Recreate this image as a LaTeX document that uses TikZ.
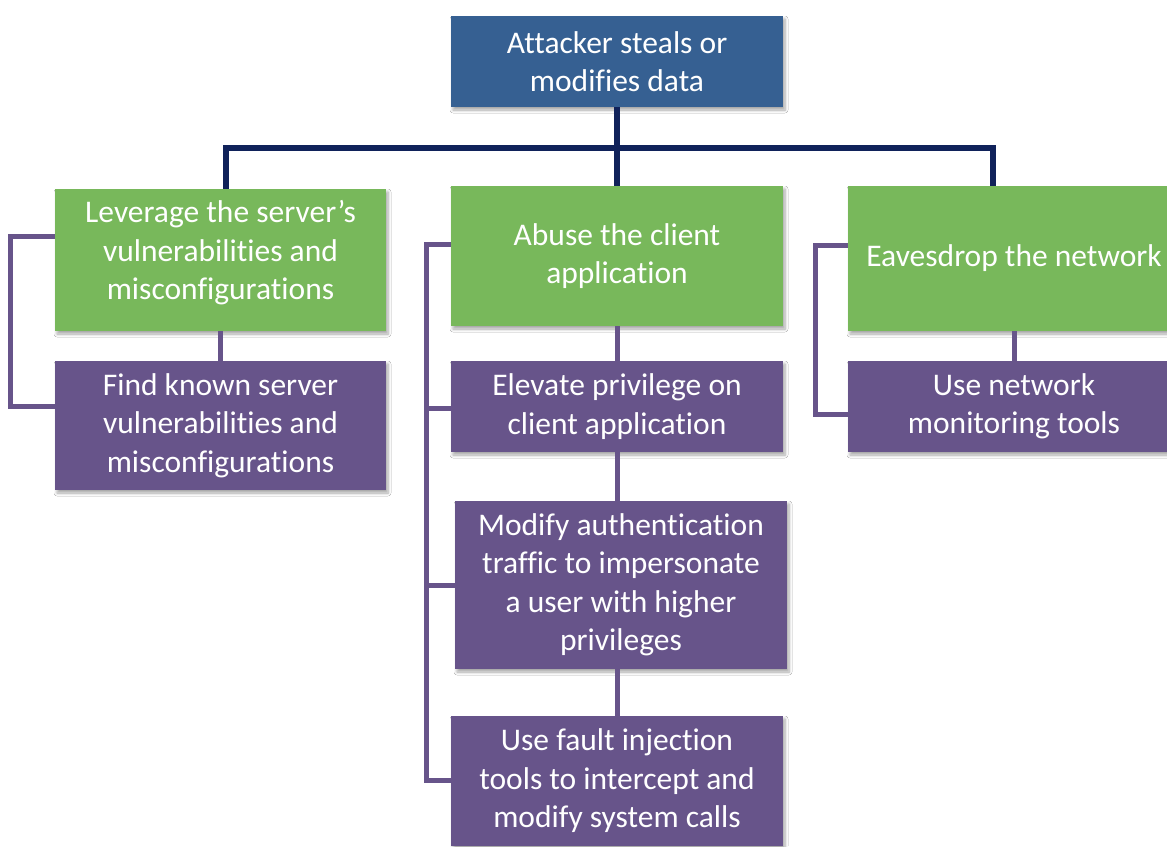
\documentclass[tikz,border=0pt]{standalone}
\usepackage{fontspec}
\setmainfont{Carlito}[Ligatures={NoCommon}]
\usetikzlibrary{shadows.blur}
\definecolor{rootblue}{HTML}{366092}
\definecolor{leafgreen}{HTML}{78B85B}
\definecolor{stepviolet}{HTML}{67548A}
\definecolor{busnavy}{HTML}{10225A}
\tikzset{
  boxtext/.style={text=white, align=center, inner sep=0pt,
    font=\fontsize{31.5}{38.5}\selectfont,
    execute at begin node={\vspace*{6pt}}},
  box/.style={rectangle, boxtext,
    blur shadow={shadow blur steps=6, shadow xshift=2pt, shadow yshift=-3pt,
      shadow opacity=35, shadow blur radius=3pt}},
  rootbox/.style={box, fill=rootblue},
  goalbox/.style={box, fill=leafgreen},
  stepbox/.style={box, fill=stepviolet},
  busline/.style={draw=busnavy, line width=5.5pt},
  linkline/.style={draw=stepviolet, line width=5pt}
}
\begin{document}
\begin{tikzpicture}[x=1pt, y=-1pt]
\useasboundingbox (0,0) rectangle (1167,846);
\clip (0,0) rectangle (1167,846);
\fill[white] (0,0) rectangle (1167,846);

% junctions of the tree bus
\coordinate (busL) at (226,148);
\coordinate (busR) at (993,148);

% left branch bracket
\coordinate (lbT) at (10,236);
\coordinate (lbB) at (10,406);
% middle branch bracket
\coordinate (mbT) at (426,244);
\coordinate (mb2) at (426,408);
\coordinate (mb3) at (426,585);
\coordinate (mbB) at (426,780);
% right branch bracket
\coordinate (rbT) at (815,245);
\coordinate (rbB) at (815,414);

% boxes
\node[rootbox, minimum width=332pt, minimum height=91pt] (root) at (617,61.5)
  {Attacker steals or\\modifies data};

\node[goalbox, minimum width=331pt, minimum height=142pt] (g1) at (220.5,260) {};
\node[boxtext] (g1t) at ([yshift=7pt]g1.center)
  {Leverage the server’s\\vulnerabilities and\\misconfigurations};
\node[stepbox, minimum width=331pt, minimum height=129pt] (p1) at (220.5,425.5)
  {Find known server\\vulnerabilities and\\misconfigurations};

\node[goalbox, minimum width=332pt, minimum height=140pt] (g2) at (617,256)
  {Abuse the client\\application};
\node[stepbox, minimum width=332pt, minimum height=91pt] (p2) at (617,406.5)
  {Elevate privilege on\\client application};
\node[stepbox, minimum width=332pt, minimum height=168pt] (p3) at (621,585)
  {Modify authentication\\traffic to impersonate\\a user with higher\\privileges};
\node[stepbox, minimum width=332pt, minimum height=130pt] (p4) at (617,781)
  {Use fault injection\\tools to intercept and\\modify system calls};

\node[goalbox, minimum width=332pt, minimum height=145pt] (g3) at (1014,258.5)
  {Eavesdrop the network};
\node[stepbox, minimum width=332pt, minimum height=91pt] (p5) at (1014,406.5)
  {Use network\\monitoring tools};

% tree bus
\draw[busline] (root.south) -- (g2.north);
\draw[busline, line cap=rect] (busL) -- (busR);
\draw[busline] (busL) -- (busL |- g1.north);
\draw[busline] (busR) -- (busR |- g3.north);

% goal to first step, step to step
\draw[linkline] (g1.south) -- (p1.north);
\draw[linkline] (g2.south) -- (p2.north);
\draw[linkline] (p2.south) -- (p2.south |- p3.north);
\draw[linkline] (p3.south -| p2.south) -- (p4.north);
\draw[linkline] (g3.south) -- (p5.north);

% brackets grouping each branch
\draw[linkline] (lbT -| g1.west) -- (lbT) -- (lbB) -- (lbB -| p1.west);
\draw[linkline] (mbT -| g2.west) -- (mbT) -- (mbB) -- (mbB -| p4.west);
\draw[linkline] (mb2) -- (mb2 -| p2.west);
\draw[linkline] (mb3) -- (mb3 -| p3.west);
\draw[linkline] (rbT -| g3.west) -- (rbT) -- (rbB) -- (rbB -| p5.west);
\end{tikzpicture}
\end{document}
